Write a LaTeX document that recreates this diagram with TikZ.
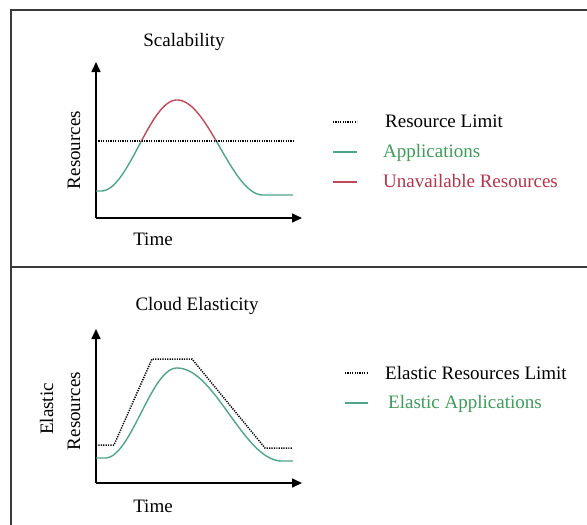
\documentclass[tikz,border=0pt]{standalone}
\usepackage{fontspec}
\setmainfont{Liberation Serif}
\usetikzlibrary{arrows.meta}
\definecolor{framegray}{HTML}{3A3A3A}
\definecolor{curvegreen}{HTML}{4FA58A}
\definecolor{curvered}{HTML}{C04A58}
\definecolor{textgreen}{HTML}{3C9C58}
\definecolor{textred}{HTML}{B53548}
\tikzset{
  frame/.style={line width=2pt, draw=framegray},
  axis/.style={line width=1.6pt, -{Triangle[length=10pt,width=9pt]}},
  limit/.style={line width=1.5pt, dash pattern=on 1.2pt off 1.2pt},
  appline/.style={line width=1.4pt, curvegreen},
  redline/.style={line width=1.4pt, curvered},
  lbl/.style={font=\fontsize{19}{21}\selectfont, inner sep=0pt, anchor=base},
  leg/.style={font=\fontsize{19}{21}\selectfont, inner sep=0pt, anchor=base west},
}
\begin{document}
\begin{tikzpicture}[x=1pt, y=-1pt]
\useasboundingbox (0,0) rectangle (587,525);
% frame
\draw[frame] (587,10) -- (10.5,10) -- (10.5,525);
\draw[frame] (10.5,266.5) -- (587,266.5);

% ---------- top panel ----------
\node[lbl] (t1) at (184,46) {Scalability};
\coordinate (o1) at (96,218);
\coordinate (yt1) at (96,62);
\coordinate (xt1) at (302,218);
\draw[axis] (o1) -- (yt1);
\draw[axis] (o1) -- (xt1);
\node[lbl, rotate=90] (r1) at (80,150) {Resources};
\node[lbl] (time1) at (153,245) {Time};

\begin{scope}
  \clip (90,141) rectangle (300,230);
  \draw[appline] plot[domain=96:177, samples=80] (\x,{191-91*(1+cos(min(180,(177-\x)/76*180)))/2});
  \draw[appline] plot[domain=177:293, samples=100] (\x,{195-95*(1+cos(min(180,(\x-177)/86*180)))/2});
\end{scope}
\begin{scope}
  \clip (90,60) rectangle (300,141);
  \draw[redline] plot[domain=96:177, samples=80] (\x,{191-91*(1+cos(min(180,(177-\x)/76*180)))/2});
  \draw[redline] plot[domain=177:293, samples=100] (\x,{195-95*(1+cos(min(180,(\x-177)/86*180)))/2});
\end{scope}
\coordinate (l1a) at (96,141);
\coordinate (l1b) at (293,141);
\draw[limit] (l1a) -- (l1b);

% legend top
\coordinate (k1a) at (333,122); \coordinate (k1b) at (357,122);
\coordinate (k2a) at (333,152); \coordinate (k2b) at (357,152);
\coordinate (k3a) at (333,182); \coordinate (k3b) at (357,182);
\draw[limit, line width=1.1pt] (k1a) -- (k1b);
\draw[appline] (k2a) -- (k2b);
\draw[redline] (k3a) -- (k3b);
\node[leg] (lg1) at (385,127) {Resource Limit};
\node[leg, text=textgreen] (lg2) at (383,157) {Applications};
\node[leg, text=textred] (lg3) at (383,187) {Unavailable Resources};

% ---------- bottom panel ----------
\node[lbl] (t2) at (197,310) {Cloud Elasticity};
\coordinate (o2) at (96,483);
\coordinate (yt2) at (96,329);
\coordinate (xt2) at (302,483);
\draw[axis] (o2) -- (yt2);
\draw[axis] (o2) -- (xt2);
\node[lbl, rotate=90] (e2) at (53,409) {Elastic};
\node[lbl, rotate=90] (r2) at (80,411) {Resources};
\node[lbl] (time2) at (153,512) {Time};

\draw[appline] plot[domain=96:177, samples=80] (\x,{458-90*(1+cos(min(180,(177-\x)/72*180)))/2});
\draw[appline] plot[domain=177:293, samples=100] (\x,{461-93*(1+cos(min(180,(\x-177)/105*180)))/2});

\coordinate (d1) at (96,445);
\coordinate (d2) at (114,445);
\coordinate (d3) at (152,359);
\coordinate (d4) at (192,359);
\coordinate (d5) at (265,448);
\coordinate (d6) at (293,448);
\draw[limit] (d1) -- (d2) -- (d3) -- (d4) -- (d5) -- (d6);

% legend bottom
\coordinate (k4a) at (345,373); \coordinate (k4b) at (368,373);
\coordinate (k5a) at (345,403); \coordinate (k5b) at (368,403);
\draw[limit, line width=1.1pt] (k4a) -- (k4b);
\draw[appline] (k5a) -- (k5b);
\node[leg] (lg4) at (385,379) {Elastic Resources Limit};
\node[leg, text=textgreen] (lg5) at (388,408) {Elastic Applications};
\end{tikzpicture}
\end{document}
